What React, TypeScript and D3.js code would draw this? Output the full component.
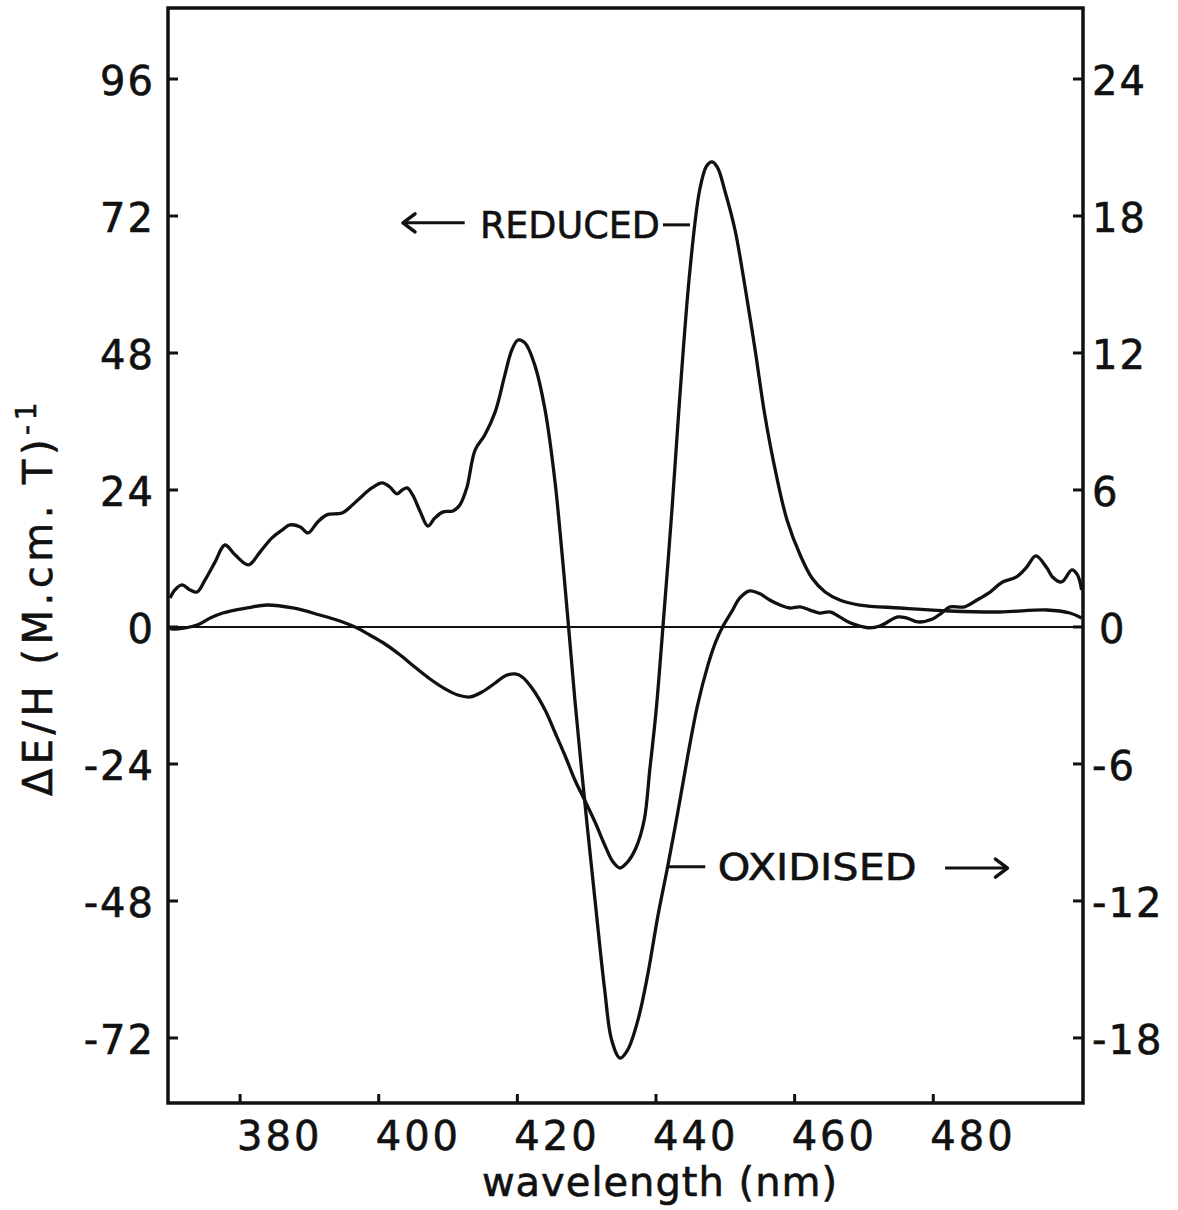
import React from "react";
import * as d3 from "d3";

// ---- data ----
const reducedNm = [369.6, 370.2, 373.8, 375.7, 377.5, 381.0, 383.9, 387.6, 391.5, 394.4, 396.9, 398.7, 400.9, 403.1, 405.2, 407.4, 409.6, 411.4, 413.2, 414.9, 416.8, 418.2, 419.7, 420.7, 422.1, 424.0, 425.4, 426.9, 428.3, 429.7, 431.2, 432.6, 433.8, 434.8, 435.9, 437.1, 438.3, 439.1, 440.0, 441.0, 442.3, 443.4, 444.9, 446.3, 447.3, 448.1, 448.9, 449.9, 451.4, 452.8, 454.3, 455.7, 457.2, 458.9, 460.8, 462.5, 464.4, 466.5, 469.4, 475.2, 482.4, 489.6, 496.4, 499.7, 501.4];
const reducedValues = [0, -0.35, 0.35, 1.58, 2.45, 3.33, 3.85, 3.33, 2.1, 1.05, -0.18, -1.4, -2.98, -4.91, -7.01, -9.11, -10.86, -11.91, -12.26, -11.39, -9.81, -8.58, -8.23, -8.76, -10.69, -14.54, -18.4, -22.6, -26.8, -30.31, -34.16, -38.19, -41.17, -42.22, -41.17, -38.72, -33.81, -25.05, -14.89, 0, 20.5, 39.77, 62.55, 76.56, 80.77, 81.47, 80.42, 76.56, 69.55, 59.92, 48.53, 37.14, 27.51, 18.75, 12.61, 8.58, 6.13, 4.73, 3.85, 3.33, 2.8, 2.63, 2.98, 2.45, 1.58];

const oxidisedNm = [369.9, 370.6, 371.6, 372.8, 373.8, 374.95, 376.4, 377.8, 379.3, 381.2, 382.9, 384.6, 386.1, 387.2, 388.7, 389.8, 391.2, 392.5, 394.7, 396.2, 397.3, 399.0, 400.5, 401.6, 402.6, 403.4, 404.1, 404.9, 406.0, 407.1, 408.1, 409.3, 410.7, 411.7, 412.7, 413.9, 415.3, 416.8, 418.2, 419.2, 420.1, 421.1, 422.5, 424.0, 425.4, 426.4, 427.3, 428.3, 429.7, 431.2, 432.6, 433.6, 434.8, 435.9, 437.4, 438.8, 440.3, 441.7, 443.2, 444.6, 446.0, 447.5, 448.6, 449.6, 450.9, 452.1, 453.5, 455.0, 456.4, 457.9, 459.3, 460.8, 462.2, 463.6, 465.1, 466.5, 468.0, 469.4, 470.8, 472.3, 474.9, 476.2, 477.8, 479.9, 481.2, 482.4, 484.5, 486.3, 488.2, 490.0, 492.0, 493.5, 494.8, 496.4, 497.2, 498.5, 500.0, 500.8, 501.4];
const oxidisedValues = [1.27, 1.62, 1.84, 1.62, 1.53, 2.06, 2.85, 3.59, 3.15, 2.72, 3.29, 3.9, 4.25, 4.47, 4.38, 4.12, 4.6, 4.91, 4.99, 5.34, 5.65, 6.09, 6.31, 6.13, 5.83, 6.0, 6.09, 5.78, 5.04, 4.42, 4.77, 5.04, 5.08, 5.34, 6.09, 7.75, 8.41, 9.42, 11.04, 12.13, 12.57, 12.44, 11.48, 9.5, 6.44, 3.37, 0.31, -3.2, -7.58, -11.96, -15.9, -18.09, -18.88, -18.53, -17.21, -15.24, -12.61, -10.47, -8.02, -5.61, -3.42, -1.66, -0.66, 0, 0.66, 1.27, 1.58, 1.45, 1.18, 0.96, 0.83, 0.88, 0.74, 0.61, 0.66, 0.44, 0.18, 0.04, -0.04, 0.04, 0.44, 0.39, 0.22, 0.35, 0.61, 0.88, 0.88, 1.18, 1.53, 1.97, 2.19, 2.63, 3.11, 2.58, 2.19, 1.97, 2.5, 2.28, 1.62];

const xTicks = [380, 400, 420, 440, 460, 480];
const leftTicks = [96, 72, 48, 24, 0, -24, -48, -72];
const rightTicks = [24, 18, 12, 6, 0, -6, -12, -18];

const xDomain = [369.6, 501.6];
const leftDomain = [108.44, -83.39];
const rightDomain = [27.11, -20.85];

const FONT = "'DejaVu Sans', sans-serif";

export default function App() {
  const left = 168, right = 1083, top = 8, bottom = 1103;
  const x = d3.scaleLinear().domain(xDomain).range([left, right]);
  const yL = d3.scaleLinear().domain(leftDomain).range([top, bottom]);
  const yR = d3.scaleLinear().domain(rightDomain).range([top, bottom]);

  const redLine = d3
    .line<number>()
    .x((_, i) => x(reducedNm[i]))
    .y((d) => yL(d))
    .curve(d3.curveCatmullRom.alpha(0.5))(reducedValues) as string;
  const oxLine = d3
    .line<number>()
    .x((_, i) => x(oxidisedNm[i]))
    .y((d) => yR(d))
    .curve(d3.curveCatmullRom.alpha(0.5))(oxidisedValues) as string;

  const stroke = "#111";
  const textStroke = { stroke: stroke, strokeWidth: 0.6 };

  const redArrowY = yL(70.8);
  const oxArrowY = yR(-10.5);

  return (
    <div style={{ position: "absolute", left: 0, top: 0 }}>
      <svg width={1178} height={1210} style={{ display: "block", background: "#fff" }}>
        <rect x={left} y={top} width={right - left} height={bottom - top} fill="none" stroke={stroke} strokeWidth={3.5} />
        <line x1={left} x2={right} y1={yL(0)} y2={yL(0)} stroke={stroke} strokeWidth={2} />

        {leftTicks.map((t) => (
          <g key={"l" + t}>
            <line x1={left} x2={left + 10} y1={yL(t)} y2={yL(t)} stroke={stroke} strokeWidth={3} />
            <text x={155} y={yL(t) + 16} textAnchor="end" fontFamily={FONT} fontSize={40} letterSpacing={2} fill={stroke} {...textStroke}>
              {t < 0 ? "-" + Math.abs(t) : t}
            </text>
          </g>
        ))}
        {rightTicks.map((t) => (
          <g key={"r" + t}>
            <line x1={right - 10} x2={right} y1={yR(t)} y2={yR(t)} stroke={stroke} strokeWidth={3} />
            <text x={t === 0 ? 1099 : 1092} y={yR(t) + 16} textAnchor="start" fontFamily={FONT} fontSize={40} letterSpacing={2} fill={stroke} {...textStroke}>
              {t < 0 ? "-" + Math.abs(t) : t}
            </text>
          </g>
        ))}
        {xTicks.map((t) => (
          <g key={"x" + t}>
            <line x1={x(t)} x2={x(t)} y1={bottom} y2={bottom - 9} stroke={stroke} strokeWidth={3} />
            <text x={x(t) - 3} y={1150} textAnchor="start" fontFamily={FONT} fontSize={40} letterSpacing={3} fill={stroke} {...textStroke}>
              {t}
            </text>
          </g>
        ))}

        <text x={660} y={1196} textAnchor="middle" fontFamily={FONT} fontSize={40} letterSpacing={1} fill={stroke} {...textStroke}>
          wavelength (nm)
        </text>
        <text transform={`translate(52, 597) rotate(-90)`} textAnchor="middle" fontFamily={FONT} fontSize={40} letterSpacing={4.5} fill={stroke} {...textStroke}>
          ΔE/H  (M.cm. T)
          <tspan fontSize={28} dy={-16}>-1</tspan>
        </text>

        <path d={oxLine} fill="none" stroke={stroke} strokeWidth={3.3} strokeLinejoin="round" />
        <path d={redLine} fill="none" stroke={stroke} strokeWidth={3.3} strokeLinejoin="round" />

        <line x1={x(403.5)} x2={x(412.4)} y1={redArrowY} y2={redArrowY} stroke={stroke} strokeWidth={3} />
        <path d={`M${x(403.5) + 12},${redArrowY - 9} L${x(403.5)},${redArrowY} L${x(403.5) + 12},${redArrowY + 9}`} fill="none" stroke={stroke} strokeWidth={3.5} strokeLinecap="round" strokeLinejoin="round" />
        <text x={x(414.6)} y={yL(68.2)} fontFamily={FONT} fontSize={38} textLength={180} lengthAdjust="spacingAndGlyphs" fill={stroke} {...textStroke}>
          REDUCED
        </text>
        <line x1={x(441.0)} x2={x(444.9)} y1={redArrowY + 2} y2={redArrowY + 2} stroke={stroke} strokeWidth={3} />

        <line x1={x(441.7)} x2={x(447.1)} y1={oxArrowY} y2={oxArrowY} stroke={stroke} strokeWidth={3} />
        <text x={x(448.9)} y={yR(-11.08)} fontFamily={FONT} fontSize={38} textLength={199} lengthAdjust="spacingAndGlyphs" fill={stroke} {...textStroke}>
          OXIDISED
        </text>
        <line x1={x(481.7)} x2={x(490.7)} y1={yR(-10.56)} y2={yR(-10.56)} stroke={stroke} strokeWidth={3} />
        <path d={`M${x(490.7) - 12},${yR(-10.56) - 9} L${x(490.7)},${yR(-10.56)} L${x(490.7) - 12},${yR(-10.56) + 9}`} fill="none" stroke={stroke} strokeWidth={3.5} strokeLinecap="round" strokeLinejoin="round" />
      </svg>
    </div>
  );
}
